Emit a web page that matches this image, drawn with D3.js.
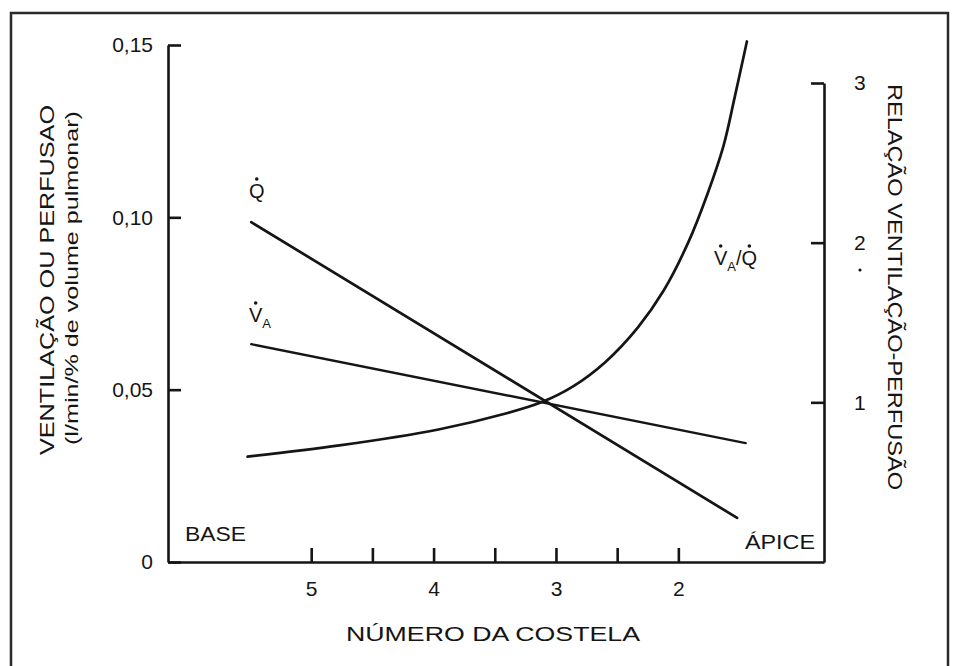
<!DOCTYPE html>
<html><head><meta charset="utf-8">
<script src="https://cdn.jsdelivr.net/npm/d3@7"></script>
<style>
html,body{margin:0;padding:0;background:#fff;}
svg text{font-family:"Liberation Sans",Arial,sans-serif;fill:#151515;}
</style></head>
<body>
<svg id="c" width="955" height="666"></svg>
<script>
// Rib number (x) — base (rib 5+) to apex (rib 2-)
const ribTicks = [5, 4.5, 4, 3.5, 3, 2.5, 2];
const ribLabels = ["5", "", "4", "", "3", "", "2"];
const leftTicks = [0, 0.05, 0.10, 0.15];
const leftTickLabels = ["0", "0,05", "0,10", "0,15"];
const rightTicks = [1, 2, 3];
const rightTickLabels = ["1", "2", "3"];

// Perfusion Q (l/min/% lung volume)
const qRib = [5.49, 1.52];
const qValue = [0.0986, 0.0128];
// Ventilation VA
const vaRib = [5.49, 1.45];
const vaValue = [0.0632, 0.0345];
// Ventilation-perfusion ratio VA/Q (right axis)
const ratioRib = [5.52, 4.77, 3.96, 3.41, 3.12, 2.86, 2.60, 2.33, 2.12, 1.92, 1.76, 1.63, 1.54, 1.44];
const ratioValue = [0.66, 0.73, 0.83, 0.93, 1.00, 1.10, 1.25, 1.47, 1.70, 2.00, 2.31, 2.61, 2.91, 3.26];

const svg = d3.select("#c");
const ink = "#151515";

// frame
svg.append("path").attr("d", "M11,667V13H948V667")
  .attr("fill", "none").attr("stroke", "#2a2a2a").attr("stroke-width", 2.5);

const x = d3.scaleLinear().domain([6.17, 0.81]).range([168, 824]);
const yL = d3.scaleLinear().domain([0, 0.15]).range([562, 45]);
const yR = d3.scaleLinear().domain([0, 3]).range([562, 83]);

function styleAxis(g, fs) {
  g.selectAll("path.domain").attr("stroke", ink).attr("stroke-width", 2.6);
  g.selectAll(".tick line").attr("stroke", ink).attr("stroke-width", 2.6);
  g.selectAll(".tick text").style("font-size", fs + "px").attr("fill", ink);
}

const gx = svg.append("g").attr("transform", "translate(0,562)")
  .call(d3.axisBottom(x).tickValues(ribTicks)
    .tickFormat((d, i) => ribLabels[i]).tickSizeInner(-14).tickSizeOuter(0).tickPadding(19));
styleAxis(gx, 21);

const gl = svg.append("g").attr("transform", "translate(168,0)")
  .call(d3.axisLeft(yL).tickValues(leftTicks)
    .tickFormat((d, i) => leftTickLabels[i]).tickSizeInner(-13).tickSizeOuter(0).tickPadding(15));
styleAxis(gl, 21);

const gr = svg.append("g").attr("transform", "translate(824,0)")
  .call(d3.axisRight(yR).tickValues(rightTicks)
    .tickFormat((d, i) => rightTickLabels[i]).tickSizeInner(-13).tickSizeOuter(0).tickPadding(30));
styleAxis(gr, 21);

// lines
const lineL = d3.line().x(d => x(d[0])).y(d => yL(d[1]));
const lineR = d3.line().x(d => x(d[0])).y(d => yR(d[1])).curve(d3.curveCatmullRom.alpha(0.5));

svg.append("path").datum(d3.zip(qRib, qValue)).attr("d", lineL)
  .attr("fill", "none").attr("stroke", ink).attr("stroke-width", 2.7).attr("stroke-linecap", "round");
svg.append("path").datum(d3.zip(vaRib, vaValue)).attr("d", lineL)
  .attr("fill", "none").attr("stroke", ink).attr("stroke-width", 2.4).attr("stroke-linecap", "round");
svg.append("path").datum(d3.zip(ratioRib, ratioValue)).attr("d", lineR)
  .attr("fill", "none").attr("stroke", ink).attr("stroke-width", 2.7).attr("stroke-linecap", "round");

// axis titles
svg.append("text").attr("transform", "translate(54,280) rotate(-90)")
  .attr("text-anchor", "middle").style("font-size", "20px")
  .attr("textLength", 350).attr("lengthAdjust", "spacingAndGlyphs")
  .text("VENTILAÇÃO OU PERFUSAO");
svg.append("text").attr("transform", "translate(78,278) rotate(-90)")
  .attr("text-anchor", "middle").style("font-size", "18px")
  .attr("textLength", 334).attr("lengthAdjust", "spacingAndGlyphs")
  .text("(l/min/% de volume pulmonar)");
svg.append("text").attr("transform", "translate(888,287) rotate(90)")
  .attr("text-anchor", "middle").style("font-size", "20px")
  .attr("textLength", 406).attr("lengthAdjust", "spacingAndGlyphs")
  .text("RELAÇÃO VENTILAÇÃO-PERFUSÃO");
svg.append("text").attr("x", 493).attr("y", 641)
  .attr("text-anchor", "middle").style("font-size", "20px")
  .attr("textLength", 294).attr("lengthAdjust", "spacingAndGlyphs")
  .text("NÚMERO DA COSTELA");

// stray dot under "2" on the right axis
svg.append("circle").attr("cx", 860).attr("cy", 270).attr("r", 1.6).attr("fill", ink);

// region labels
svg.append("text").attr("x", 185).attr("y", 541).style("font-size", "21px")
  .attr("textLength", 61).attr("lengthAdjust", "spacingAndGlyphs").text("BASE");
svg.append("text").attr("x", 745).attr("y", 549).style("font-size", "21px")
  .attr("textLength", 70).attr("lengthAdjust", "spacingAndGlyphs").text("ÁPICE");

// series labels with overdots placed on the glyphs
function label(xp, yp, parts, dotIdx) {
  const t = svg.append("text").attr("x", xp).attr("y", yp).style("font-size", "20px");
  parts.forEach(p => {
    const s = t.append("tspan").text(p.t);
    if (p.sub) s.attr("dy", 6).style("font-size", "13px");
    if (p.up) s.attr("dy", -6);
  });
  const node = t.node();
  dotIdx.forEach(i => {
    const e = node.getExtentOfChar(i);
    svg.append("circle").attr("cx", e.x + e.width / 2).attr("cy", yp - 19)
      .attr("r", 1.8).attr("fill", ink);
  });
}
label(249, 198, [{t: "Q"}], [0]);
label(249, 322, [{t: "V"}, {t: "A", sub: true}], [0]);
label(714, 265, [{t: "V"}, {t: "A", sub: true}, {t: "/Q", up: true}], [0, 3]);
</script>
</body></html>
